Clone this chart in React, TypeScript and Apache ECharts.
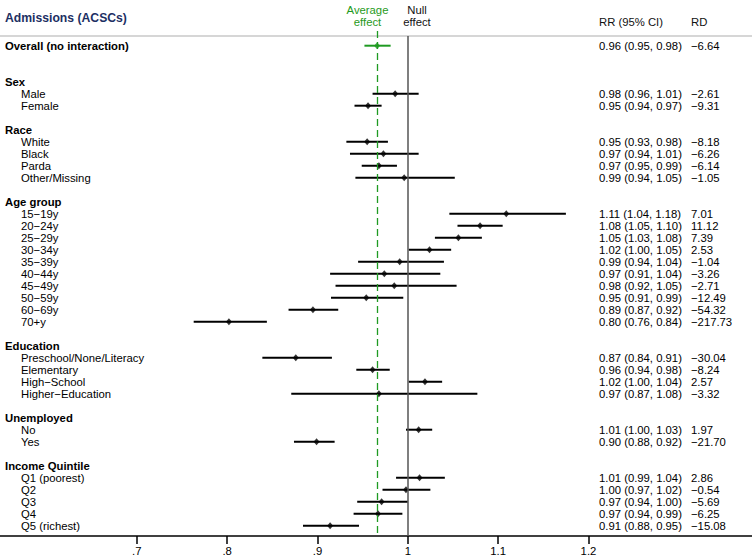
import React, { useEffect, useRef } from "react";
import * as echarts from "echarts";

// ---------- data ----------
const overallLabel = "Overall (no interaction)";
const overallEstimate = 0.966;
const overallLower = 0.952;
const overallUpper = 0.981;
const overallRR = "0.96 (0.95, 0.98)";
const overallRD = "\u22126.64";

const sections = ["Sex", "Race", "Age group", "Education", "Unemployed", "Income Quintile"];
const sectionItems = [
  ["Male", "Female"],
  ["White", "Black", "Parda", "Other/Missing"],
  ["15\u221219y", "20\u221224y", "25\u221229y", "30\u221234y", "35\u221239y", "40\u221244y", "45\u221249y", "50\u221259y", "60\u221269y", "70+y"],
  ["Preschool/None/Literacy", "Elementary", "High\u2212School", "Higher\u2212Education"],
  ["No", "Yes"],
  ["Q1 (poorest)", "Q2", "Q3", "Q4", "Q5 (richest)"],
];
const estimate = [0.986, 0.956, 0.955, 0.973, 0.968, 0.996, 1.109, 1.080, 1.056, 1.024, 0.991, 0.974, 0.985, 0.954, 0.895, 0.802, 0.876, 0.961, 1.019, 0.968, 1.012, 0.899, 1.013, 0.998, 0.971, 0.967, 0.914];
const lower = [0.961, 0.941, 0.932, 0.936, 0.949, 0.942, 1.046, 1.055, 1.030, 1.001, 0.945, 0.914, 0.920, 0.915, 0.868, 0.763, 0.839, 0.943, 1.001, 0.871, 0.998, 0.874, 0.987, 0.972, 0.944, 0.940, 0.884];
const upper = [1.012, 0.971, 0.978, 1.012, 0.988, 1.052, 1.175, 1.105, 1.082, 1.048, 1.040, 1.036, 1.054, 0.995, 0.923, 0.844, 0.916, 0.980, 1.038, 1.077, 1.027, 0.919, 1.041, 1.025, 1.000, 0.994, 0.946];
const rrText = [
  "0.98 (0.96, 1.01)", "0.95 (0.94, 0.97)",
  "0.95 (0.93, 0.98)", "0.97 (0.94, 1.01)", "0.97 (0.95, 0.99)", "0.99 (0.94, 1.05)",
  "1.11 (1.04, 1.18)", "1.08 (1.05, 1.10)", "1.05 (1.03, 1.08)", "1.02 (1.00, 1.05)", "0.99 (0.94, 1.04)",
  "0.97 (0.91, 1.04)", "0.98 (0.92, 1.05)", "0.95 (0.91, 0.99)", "0.89 (0.87, 0.92)", "0.80 (0.76, 0.84)",
  "0.87 (0.84, 0.91)", "0.96 (0.94, 0.98)", "1.02 (1.00, 1.04)", "0.97 (0.87, 1.08)",
  "1.01 (1.00, 1.03)", "0.90 (0.88, 0.92)",
  "1.01 (0.99, 1.04)", "1.00 (0.97, 1.02)", "0.97 (0.94, 1.00)", "0.97 (0.94, 0.99)", "0.91 (0.88, 0.95)",
];
const rdText = [
  "\u22122.61", "\u22129.31",
  "\u22128.18", "\u22126.26", "\u22126.14", "\u22121.05",
  "7.01", "11.12", "7.39", "2.53", "\u22121.04", "\u22123.26", "\u22122.71", "\u221212.49", "\u221254.32", "\u2212217.73",
  "\u221230.04", "\u22128.24", "2.57", "\u22123.32",
  "1.97", "\u221221.70",
  "2.86", "\u22120.54", "\u22125.69", "\u22126.25", "\u221215.08",
];
const xTickValues = [0.7, 0.8, 0.9, 1, 1.1, 1.2];
const nullEffect = 1;

// ---------- rows ----------
type Row = { row: number; kind: "overall" | "header" | "item"; label: string; est?: number; lo?: number; hi?: number; rr?: string; rd?: string };
const rows: Row[] = [];
rows.push({ row: 0, kind: "overall", label: overallLabel, est: overallEstimate, lo: overallLower, hi: overallUpper, rr: overallRR, rd: overallRD });
{
  let r = 3;
  let k = 0;
  sections.forEach((s, si) => {
    rows.push({ row: r, kind: "header", label: s });
    sectionItems[si].forEach((it, j) => {
      rows.push({ row: r + 1 + j, kind: "item", label: it, est: estimate[k], lo: lower[k], hi: upper[k], rr: rrText[k], rd: rdText[k] });
      k++;
    });
    r += sectionItems[si].length + 2;
  });
}

const GREEN = "#1f9a22";
const FONT = "'Liberation Sans', Arial, Helvetica, sans-serif";
const FS = 11.3;
const Y_MIN = -3.808;
const Y_MAX = 40.858;

export default function App() {
  const ref = useRef<HTMLDivElement>(null);
  useEffect(() => {
    if (!ref.current) return;
    const chart = echarts.init(ref.current, undefined, { renderer: "svg" });
    const option: any = {
      animation: false,
      textStyle: { fontFamily: FONT },
      grid: { left: 0, right: 0, top: 0, bottom: 21, containLabel: false, outerBoundsMode: "none" },
      xAxis: {
        type: "value",
        min: 0.5486,
        max: 1.381,
        splitLine: { show: false },
        axisLine: { show: true, onZero: false, lineStyle: { color: "#000", width: 1.5 } },
        axisTick: { show: true, customValues: xTickValues, length: 8, lineStyle: { color: "#000", width: 1.5 } },
        axisLabel: {
          customValues: xTickValues,
          margin: 9,
          fontSize: FS,
          color: "#000",
          fontFamily: FONT,
          formatter: (v: number) => (Math.abs(v - 1) < 1e-9 ? "1" : v < 1 ? "." + Math.round(v * 10) : v.toFixed(1)),
        },
      },
      yAxis: { type: "value", min: Y_MIN, max: Y_MAX, inverse: true, show: false, splitLine: { show: false } },
      graphic: [
        { type: "line", shape: { x1: 0, y1: 36, x2: 752, y2: 36 }, style: { stroke: "#c8c8c8", lineWidth: 1.5 }, z: 1 },
        { type: "text", x: 5, y: 18, style: { text: "Admissions (ACSCs)", fontFamily: FONT, fontSize: 12.2, fontWeight: "bold", fill: "#1c2f63", align: "left", verticalAlign: "middle" } },
        { type: "text", x: 367.5, y: 16, style: { text: "Average\neffect", fontFamily: FONT, fontSize: FS, lineHeight: 12, fill: GREEN, align: "center", verticalAlign: "middle" } },
        { type: "text", x: 417, y: 16, style: { text: "Null\neffect", fontFamily: FONT, fontSize: FS, lineHeight: 12, fill: "#111", align: "center", verticalAlign: "middle" } },
        { type: "text", x: 599, y: 22, style: { text: "RR (95% CI)", fontFamily: FONT, fontSize: FS, fill: "#111", align: "left", verticalAlign: "middle" } },
        { type: "text", x: 691, y: 22, style: { text: "RD", fontFamily: FONT, fontSize: FS, fill: "#111", align: "left", verticalAlign: "middle" } },
      ],
      series: [
        {
          type: "custom",
          clip: false,
          z: 3,
          data: rows.map((r) => [r.lo ?? overallEstimate, r.row, r.hi ?? overallEstimate]),
          encode: { x: [0, 2], y: 1 },
          renderItem: (params: any, api: any) => {
            const r = rows[params.dataIndex];
            const y = api.coord([1, r.row])[1];
            const children: any[] = [];
            const bold = r.kind !== "item";
            children.push({
              type: "text",
              x: r.kind === "item" ? 21 : 5,
              y,
              style: { text: r.label, fontFamily: FONT, fontSize: FS, fontWeight: bold ? "bold" : "normal", fill: "#000", align: "left", verticalAlign: "middle" },
            });
            if (r.lo !== undefined && r.hi !== undefined) {
              const p1 = api.coord([r.lo, r.row]);
              const p2 = api.coord([r.hi, r.row]);
              children.push({
                type: "line",
                shape: { x1: p1[0], y1: p1[1], x2: p2[0], y2: p2[1] },
                style: { stroke: r.kind === "overall" ? GREEN : "#000", lineWidth: 2 },
              });
              children.push({ type: "text", x: 599, y, style: { text: r.rr, fontFamily: FONT, fontSize: FS, fill: "#000", align: "left", verticalAlign: "middle" } });
              children.push({ type: "text", x: 691, y, style: { text: r.rd, fontFamily: FONT, fontSize: FS, fill: "#000", align: "left", verticalAlign: "middle" } });
            }
            return { type: "group", children };
          },
        },
        {
          type: "scatter",
          z: 4,
          symbol: "diamond",
          symbolSize: [6, 7],
          data: rows
            .filter((r) => r.est !== undefined)
            .map((r) => ({ value: [r.est, r.row], itemStyle: { color: r.kind === "overall" ? GREEN : "#000" } })),
          markLine: {
            silent: true,
            symbol: ["none", "none"],
            label: { show: false },
            data: [
              [
                { coord: [overallEstimate, -1.225], lineStyle: { color: GREEN, width: 1.3, type: [7, 4] } },
                { coord: [overallEstimate, Y_MAX] },
              ],
              [
                { coord: [nullEffect, -0.808], lineStyle: { color: "#555", width: 1.5, type: "solid" } },
                { coord: [nullEffect, Y_MAX] },
              ],
            ],
          },
        },
      ],
    };
    chart.setOption(option);
    return () => chart.dispose();
  }, []);
  return <div ref={ref} style={{ position: "absolute", left: 0, top: 0, width: 752, height: 557, background: "#fff" }} />;
}
